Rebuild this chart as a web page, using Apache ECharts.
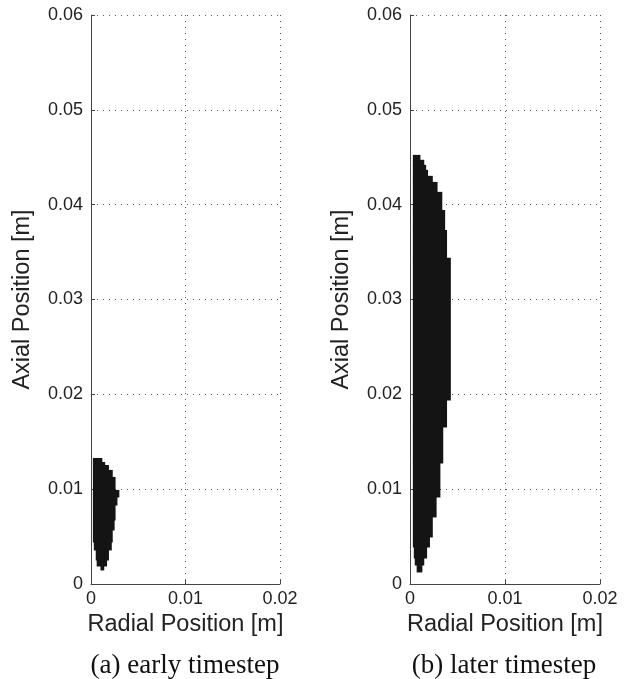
<!DOCTYPE html>
<html lang="en">
<head>
    <meta charset="UTF-8">
    <title>Axial vs radial position</title>
    <script src="https://cdn.jsdelivr.net/npm/echarts@6/dist/echarts.min.js"></script>
    <style>
        html, body { margin: 0; padding: 0; background: #fff; }
    </style>
</head>
<body>
    <div id="main" style="width: 625px;height:679px;"></div>
    <script type="text/javascript">
        // axis ticks
        const radialTicks = [0, 0.01, 0.02];
        const axialTicks = [0, 0.01, 0.02, 0.03, 0.04, 0.05, 0.06];
        const captions = ['(a) early timestep', '(b) later timestep'];

        // filled cells of each timestep, one row per step: [axialLow, axialHigh, radialIn, radialOut]
        const earlyRows = [
            [0.01287, 0.01329, 0.0002, 0.0012],
            [0.01255, 0.01287, 0.0002, 0.0015],
            [0.01203, 0.01255, 0.0002, 0.0019],
            [0.01129, 0.01203, 0.0002, 0.0023],
            [0.00992, 0.01129, 0.0002, 0.0026],
            [0.00918, 0.00992, 0.0002, 0.0030],
            [0.00833, 0.00918, 0.0002, 0.0028],
            [0.00675, 0.00833, 0.0002, 0.0026],
            [0.00570, 0.00675, 0.0002, 0.0025],
            [0.00443, 0.00570, 0.0002, 0.0023],
            [0.00359, 0.00443, 0.0003, 0.0022],
            [0.00253, 0.00359, 0.0005, 0.0019],
            [0.00190, 0.00253, 0.0006, 0.0017],
            [0.00148, 0.00190, 0.0010, 0.0014]
        ];
        const laterRows = [
            [0.04473, 0.04525, 0.0003, 0.0011],
            [0.04420, 0.04473, 0.0003, 0.0015],
            [0.04367, 0.04420, 0.0003, 0.0017],
            [0.04304, 0.04367, 0.0003, 0.0019],
            [0.04240, 0.04304, 0.0003, 0.0024],
            [0.04135, 0.04240, 0.0003, 0.0029],
            [0.03945, 0.04135, 0.0003, 0.0034],
            [0.03734, 0.03945, 0.0003, 0.0037],
            [0.03439, 0.03734, 0.0003, 0.0039],
            [0.01941, 0.03439, 0.0003, 0.0043],
            [0.01656, 0.01941, 0.0003, 0.0039],
            [0.01276, 0.01656, 0.0003, 0.0035],
            [0.00918, 0.01276, 0.0003, 0.0032],
            [0.00707, 0.00918, 0.0003, 0.0028],
            [0.00496, 0.00707, 0.0003, 0.0024],
            [0.00390, 0.00496, 0.0003, 0.0021],
            [0.00274, 0.00390, 0.0004, 0.0018],
            [0.00200, 0.00274, 0.0005, 0.0015],
            [0.00127, 0.00200, 0.0007, 0.0013]
        ];

        const myChart = echarts.init(document.getElementById('main'));
        const textColor = '#222';
        const font = 'Liberation Sans, Arial, sans-serif';
        const serif = 'Liberation Serif, Times New Roman, serif';

        function xAxisFor(i) {
            return {
                gridIndex: i, type: 'value',
                min: radialTicks[0], max: radialTicks[radialTicks.length - 1], interval: 0.01,
                name: 'Radial Position [m]', nameLocation: 'middle', nameGap: 25,
                nameTextStyle: { fontSize: 23.5, color: textColor, fontFamily: font },
                axisLine: { lineStyle: { color: '#444', width: 1 } },
                axisTick: { inside: true, length: 4, lineStyle: { color: '#444' } },
                axisLabel: { fontSize: 18, color: textColor, fontFamily: font, margin: 6,
                    formatter: v => v === 0 ? '0' : v.toFixed(2) },
                splitLine: { show: true, lineStyle: { color: '#555', type: [1, 5], width: 1 } }
            };
        }
        function yAxisFor(i) {
            return {
                gridIndex: i, type: 'value',
                min: axialTicks[0], max: axialTicks[axialTicks.length - 1], interval: 0.01,
                name: 'Axial Position [m]', nameLocation: 'middle', nameGap: 56,
                nameTextStyle: { fontSize: 23.5, color: textColor, fontFamily: font },
                axisLine: { show: true, lineStyle: { color: '#444', width: 1 } },
                axisTick: { show: true, inside: true, length: 4, lineStyle: { color: '#444' } },
                axisLabel: { fontSize: 18, color: textColor, fontFamily: font, margin: 8,
                    formatter: v => v === 0 ? '0' : v.toFixed(2) },
                splitLine: { show: true, lineStyle: { color: '#555', type: [1, 5], width: 1 } }
            };
        }
        function blobSeries(i, rows) {
            return {
                type: 'custom', xAxisIndex: i, yAxisIndex: i,
                data: rows,
                renderItem: (params, api) => {
                    const p0 = api.coord([api.value(2), api.value(1)]);
                    const p1 = api.coord([api.value(3), api.value(0)]);
                    return {
                        type: 'rect',
                        shape: { x: p0[0], y: p0[1], width: p1[0] - p0[0], height: p1[1] - p0[1] + 0.5 },
                        style: { fill: '#141414' }
                    };
                },
                silent: true
            };
        }

        const option = {
            backgroundColor: '#fff',
            animation: false,
            grid: [
                { left: 91, top: 15, width: 189, height: 569 },
                { left: 410, top: 15, width: 190, height: 569 }
            ],
            title: [
                { text: captions[0], left: 180, top: 647, textAlign: 'center',
                    textStyle: { fontFamily: serif, fontWeight: 'normal', fontSize: 27, color: '#111' } },
                { text: captions[1], left: 499, top: 647, textAlign: 'center',
                    textStyle: { fontFamily: serif, fontWeight: 'normal', fontSize: 27, color: '#111' } }
            ],
            xAxis: [xAxisFor(0), xAxisFor(1)],
            yAxis: [yAxisFor(0), yAxisFor(1)],
            series: [blobSeries(0, earlyRows), blobSeries(1, laterRows)]
        };
        myChart.setOption(option);
    </script>
</body>
</html>
